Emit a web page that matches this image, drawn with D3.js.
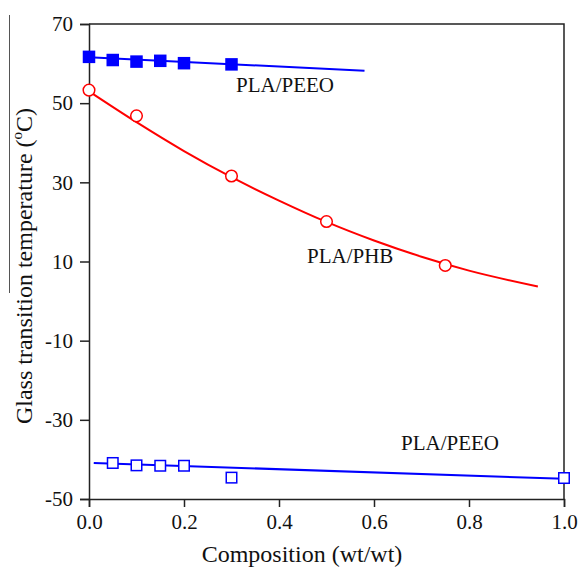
<!DOCTYPE html>
<html>
<head>
<meta charset="utf-8">
<script src="https://cdn.jsdelivr.net/npm/d3@7"></script>
<style>
  body { margin: 0; background: #fff; }
  svg, svg text { font-family: "Liberation Serif", "Times New Roman", Times, serif; }
</style>
</head>
<body>
<div id="chart"></div>
<script>
const width = 579
const height = 568

// PLA/PEEO (filled, upper)
const peeoHighX = [0, 0.05, 0.1, 0.15, 0.2, 0.3]
const peeoHighY = [61.7, 60.9, 60.5, 60.7, 60.1, 59.8]
const peeoHighFit = [[0, 61.6], [0.58, 58.2]]

// PLA/PHB (open circles)
const phbX = [0, 0.1, 0.3, 0.5, 0.75]
const phbY = [53.3, 46.8, 31.6, 20.1, 9.0]
const phbFit = [[0, 53.0], [0.1, 45.2], [0.2, 37.9], [0.3, 31.3], [0.4, 25.4], [0.5, 20.0],
                [0.6, 15.3], [0.7, 11.2], [0.8, 7.7], [0.945, 3.7]]

// PLA/PEEO (open squares, lower)
const peeoLowX = [0.05, 0.1, 0.15, 0.2, 0.3, 1.0]
const peeoLowY = [-40.9, -41.5, -41.6, -41.6, -44.6, -44.7]
const peeoLowFit = [[0.01, -40.9], [1.0, -44.9]]

const xTicks = [0, 0.2, 0.4, 0.6, 0.8, 1.0]
const yTicks = [70, 50, 30, 10, -10, -30, -50]

const svg = d3.select("#chart").append("svg")
    .attr("width", width)
    .attr("height", height)

const x = d3.scaleLinear().domain([0, 1]).range([89, 564])
const y = d3.scaleLinear().domain([-50, 70]).range([499, 24])

// stray rule at the far left of the scan
svg.append("line")
    .attr("x1", 9.5).attr("x2", 9.5)
    .attr("y1", 15).attr("y2", 293)
    .attr("stroke", "#555")
    .attr("stroke-width", 1)

// frame: top and right
svg.append("path")
    .attr("d", `M${x(0)},${y(70)}H${x(1)}V${y(-50)}`)
    .attr("fill", "none")
    .attr("stroke", "#222")
    .attr("stroke-width", 1.5)

const xAxis = svg.append("g")
    .attr("transform", `translate(0,${y(-50)})`)
    .call(d3.axisBottom(x).tickValues(xTicks).tickSize(8).tickPadding(7)
        .tickFormat(d3.format(".1f")))
const yAxis = svg.append("g")
    .attr("transform", `translate(${x(0)},0)`)
    .call(d3.axisLeft(y).tickValues(yTicks).tickSize(9).tickPadding(7)
        .tickFormat(d => String(d)))

for (const ax of [xAxis, yAxis]) {
    ax.attr("font-family", null).attr("font-size", 21)
    ax.select(".domain").attr("stroke", "#222").attr("stroke-width", 1.5)
    ax.selectAll(".tick line").attr("stroke", "#222").attr("stroke-width", 1.5)
    ax.selectAll(".tick text").attr("fill", "#111")
}

const line = d3.line().x(d => x(d[0])).y(d => y(d[1]))

// fit lines
svg.append("path").datum(peeoHighFit)
    .attr("d", line).attr("fill", "none").attr("stroke", "#0000ff").attr("stroke-width", 2)
svg.append("path").datum(phbFit)
    .attr("d", line.curve(d3.curveMonotoneX))
    .attr("fill", "none").attr("stroke", "#ff0000").attr("stroke-width", 2)
line.curve(d3.curveLinear)
svg.append("path").datum(peeoLowFit)
    .attr("d", line).attr("fill", "none").attr("stroke", "#0000ff").attr("stroke-width", 2)

// markers
const s1 = 12.5
svg.append("g").selectAll("rect")
    .data(peeoHighX.map((d, i) => [d, peeoHighY[i]]))
    .join("rect")
    .attr("x", d => x(d[0]) - s1 / 2)
    .attr("y", d => y(d[1]) - s1 / 2)
    .attr("width", s1).attr("height", s1)
    .attr("fill", "#0000ff")

svg.append("g").selectAll("circle")
    .data(phbX.map((d, i) => [d, phbY[i]]))
    .join("circle")
    .attr("cx", d => x(d[0]))
    .attr("cy", d => y(d[1]))
    .attr("r", 5.8)
    .attr("fill", "#fff")
    .attr("stroke", "#ff0000")
    .attr("stroke-width", 1.5)

const s2 = 10.5
svg.append("g").selectAll("rect")
    .data(peeoLowX.map((d, i) => [d, peeoLowY[i]]))
    .join("rect")
    .attr("x", d => x(d[0]) - s2 / 2)
    .attr("y", d => y(d[1]) - s2 / 2)
    .attr("width", s2).attr("height", s2)
    .attr("fill", "#fff")
    .attr("stroke", "#0000ff")
    .attr("stroke-width", 1.5)

// series labels
const labels = [
    { text: "PLA/PEEO", x: 236, y: 92 },
    { text: "PLA/PHB", x: 307, y: 263 },
    { text: "PLA/PEEO", x: 401, y: 450 }
]
svg.append("g").selectAll("text")
    .data(labels)
    .join("text")
    .attr("x", d => d.x)
    .attr("y", d => d.y)
    .attr("font-size", 21)
    .attr("fill", "#111")
    .text(d => d.text)

// axis titles
svg.append("text")
    .attr("x", 302)
    .attr("y", 562)
    .attr("text-anchor", "middle")
    .attr("font-size", 24)
    .attr("fill", "#111")
    .text("Composition (wt/wt)")

const yt = svg.append("text")
    .attr("transform", "translate(32,266) rotate(-90)")
    .attr("text-anchor", "middle")
    .attr("font-size", 24)
    .attr("fill", "#111")
yt.append("tspan").text("Glass transition temperature (")
yt.append("tspan").attr("font-size", 15).attr("dy", -10).text("o")
yt.append("tspan").attr("dy", 10).text("C)")
</script>
</body>
</html>
